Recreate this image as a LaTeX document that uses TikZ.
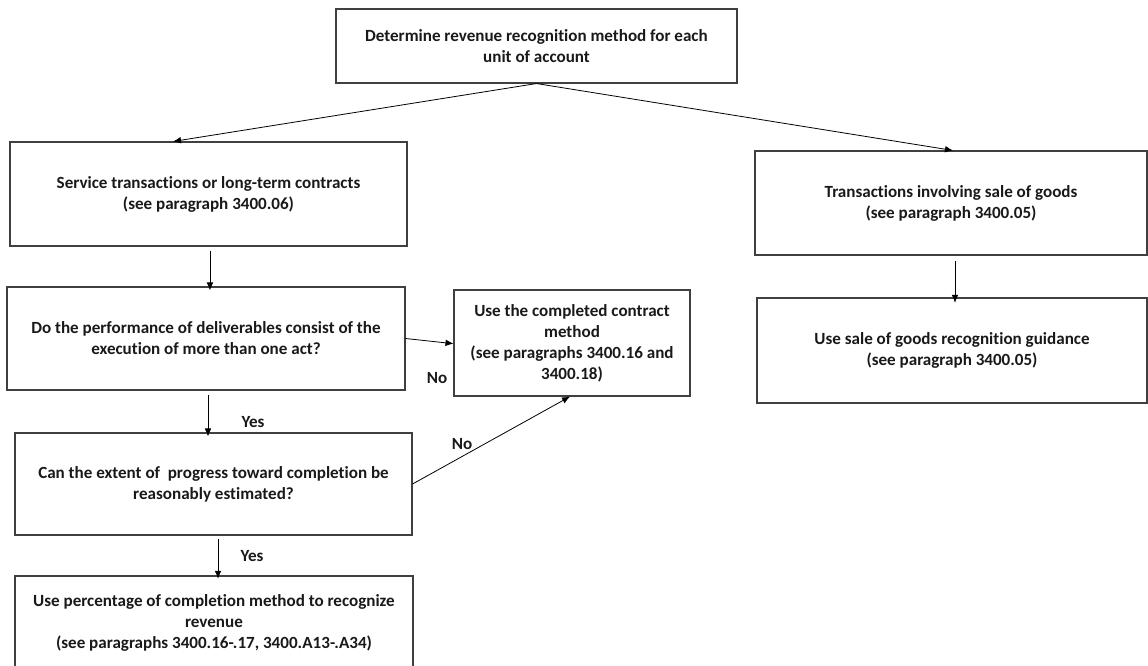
\documentclass[tikz,border=0pt]{standalone}
\usepackage{fontspec}
\setmainfont[Ligatures=NoCommon]{Carlito}
\usetikzlibrary{arrows.meta}
\begin{document}
\begin{tikzpicture}[x=0.75pt,y=-0.75pt,
  box/.style={draw=black!75,line width=0.8pt,inner sep=0pt,align=center,
    font=\fontsize{12.8}{15.75}\selectfont\bfseries,text=black!90,
    execute at begin node={\rule{0pt}{13pt}}},
  arr/.style={draw=black,line width=0.6pt,-{Latex[length=6pt,width=5pt]}},
  lab/.style={font=\fontsize{12.8}{14}\selectfont\bfseries,inner sep=0pt,text=black!90}]
\useasboundingbox (0,0) rectangle (1148,665);
\node[box,minimum width=300.75pt,minimum height=55.5pt] (top) at (536.5,46)
  {Determine revenue recognition method for each\\unit of account};
\node[box,minimum width=297.75pt,minimum height=78pt] (serv) at (208.5,194)
  {Service transactions or long-term contracts\\(see paragraph 3400.06)};
\node[box,minimum width=294pt,minimum height=78pt] (goods) at (951,203)
  {Transactions involving sale of goods\\(see paragraph 3400.05)};
\node[box,minimum width=292.5pt,minimum height=78.75pt] (sale) at (952,350.5)
  {Use sale of goods recognition guidance\\(see paragraph 3400.05)};
\node[box,minimum width=298.5pt,minimum height=77.25pt] (deliv) at (206,338.5)
  {Do the performance of deliverables consist of the\\execution of more than one act?};
\node[box,minimum width=177pt,minimum height=79.5pt] (compl) at (572,343)
  {Use the completed contract\\method\\(see paragraphs 3400.16 and\\3400.18)};
\node[box,minimum width=297.75pt,minimum height=76.5pt] (prog) at (213.5,484)
  {Can the extent of~ progress toward completion be\\reasonably estimated?};
\node[box,minimum width=298.5pt,minimum height=70.5pt] (perc) at (214,623)
  {Use percentage of completion method to recognize\\revenue\\(see paragraphs 3400.16-.17, 3400.A13-.A34)};

\draw[arr] (top.south) -- ([xshift=-26.6pt]serv.north);
\draw[arr] (top.south) -- ([xshift=1.5pt]goods.north);
\draw[arr] ([xshift=1.1pt,yshift=-3pt]serv.south) -- ([xshift=1.1pt,yshift=-3pt]serv.south |- deliv.north);
\draw[arr] ([xshift=3pt,yshift=-4pt]goods.south) -- ([xshift=3pt,yshift=-4pt]goods.south |- sale.north);
\draw[arr] (deliv.east) -- ([yshift=-0.5pt]compl.west);
\draw[arr] ([xshift=1.5pt,yshift=-3pt]deliv.south) -- ([xshift=1.5pt,yshift=-3pt]deliv.south |- prog.north);
\draw[arr] (prog.east) -- ([xshift=-1.5pt]compl.south);
\draw[arr] ([xshift=3.4pt,yshift=-2.5pt]prog.south) -- ([xshift=3.4pt,yshift=-2.5pt]prog.south |- perc.north);

\node[lab] (no1) at (437,378) {No};
\node[lab] (yes1) at (253,422) {Yes};
\node[lab] (no2) at (462,444) {No};
\node[lab] (yes2) at (252,556) {Yes};
\end{tikzpicture}
\end{document}
